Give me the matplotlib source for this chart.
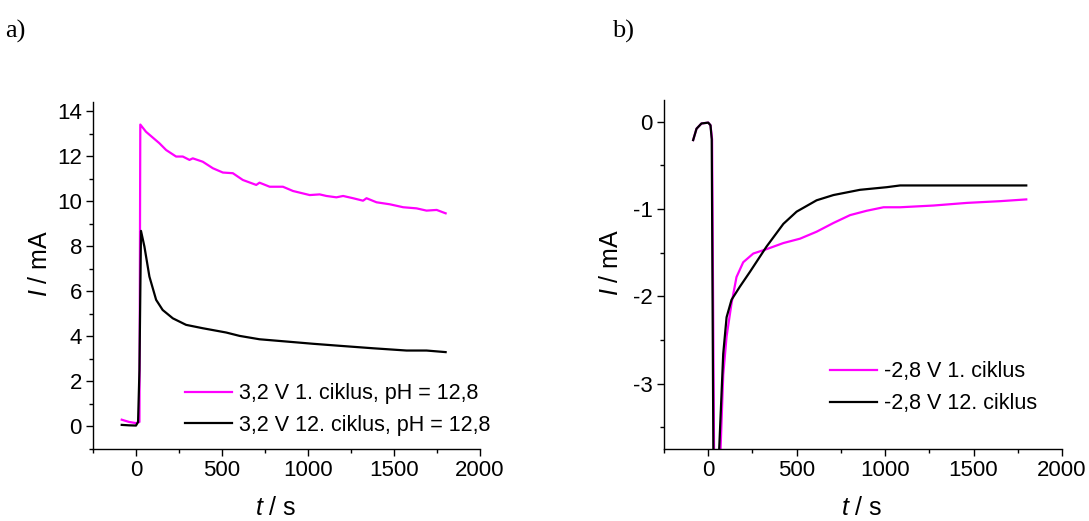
import numpy as np
import matplotlib
matplotlib.use('Agg')
import matplotlib.pyplot as plt
from matplotlib.ticker import MultipleLocator

plt.rcParams['font.family'] = 'Liberation Sans'
plt.rcParams['mathtext.fontset'] = 'custom'
plt.rcParams['mathtext.it'] = 'Liberation Sans:italic'
plt.rcParams['mathtext.rm'] = 'Liberation Sans'
plt.rcParams['axes.unicode_minus'] = False

# a) 3,2 V
t_a1 = [-83, -40, 0, 20, 25, 58, 136, 175, 233, 272, 311, 330, 388, 447, 505, 563, 621, 699, 718,
        777, 854, 913, 1010, 1068, 1107, 1165, 1204, 1262, 1320, 1340, 1398, 1476, 1553, 1631,
        1689, 1748, 1800]
i_a1 = [0.30, 0.20, 0.15, 0.2, 13.4, 13.08, 12.57, 12.27, 11.98, 11.98, 11.83, 11.9, 11.75, 11.46,
        11.27, 11.24, 10.94, 10.72, 10.82, 10.64, 10.64, 10.45, 10.27, 10.3, 10.23, 10.17, 10.23,
        10.13, 10.02, 10.13, 9.95, 9.86, 9.73, 9.68, 9.58, 9.61, 9.46]
t_a12 = [-83, -40, 0, 12, 20, 29, 49, 78, 117, 155, 214, 291, 388, 524, 602, 718, 874, 1029,
         1184, 1379, 1573, 1689, 1800]
i_a12 = [0.07, 0.05, 0.04, 0.2, 2.5, 8.68, 7.98, 6.65, 5.62, 5.17, 4.8, 4.51, 4.36, 4.17, 4.02,
         3.87, 3.77, 3.67, 3.58, 3.47, 3.37, 3.37, 3.30]

# b) -2,8 V
t_b1 = [-85, -66, -38, 0, 13, 22, 40, 62, 70, 85, 104, 132, 160, 198, 255, 330, 425, 519, 613,
        708, 802, 896, 991, 1085, 1274, 1462, 1651, 1798]
i_b1 = [-0.21, -0.08, -0.02, -0.01, -0.04, -0.2, -6.0, -5.0, -3.75, -2.9, -2.46, -2.08, -1.78,
        -1.61, -1.51, -1.46, -1.39, -1.34, -1.26, -1.16, -1.07, -1.02, -0.98, -0.98, -0.96,
        -0.93, -0.91, -0.89]
t_b12 = [-85, -66, -38, 0, 13, 20, 35, 50, 62, 85, 104, 132, 179, 236, 330, 425, 500, 613, 708,
         858, 1009, 1085, 1274, 1462, 1798]
i_b12 = [-0.21, -0.08, -0.02, -0.01, -0.04, -0.2, -6.0, -5.0, -3.76, -2.66, -2.24, -2.04, -1.89,
         -1.72, -1.43, -1.17, -1.03, -0.9, -0.84, -0.78, -0.75, -0.73, -0.73, -0.73, -0.73]

lbl_a = ['3,2 V 1. ciklus, pH = 12,8', '3,2 V 12. ciklus, pH = 12,8']
lbl_b = ['-2,8 V 1. ciklus', '-2,8 V 12. ciklus']

fig = plt.figure(figsize=(10.89, 5.21), dpi=100)
ax1 = fig.add_axes([0.0854, 0.1382, 0.3554, 0.666])
ax2 = fig.add_axes([0.6097, 0.1382, 0.3655, 0.670])


def style(ax, xlab_x, ylab_x):
    for s in ['top', 'right']:
        ax.spines[s].set_visible(False)
    for s in ['left', 'bottom']:
        ax.spines[s].set_linewidth(1.0)
    ax.tick_params(which='major', direction='out', length=5, width=1, labelsize=16, pad=3)
    ax.tick_params(which='minor', direction='out', length=3, width=1)
    ax.xaxis.set_major_locator(MultipleLocator(500))
    ax.xaxis.set_minor_locator(MultipleLocator(250))
    ax.set_xlim(-250, 2000)
    ax.set_xlabel('$t$ / s', fontsize=18)
    ax.set_ylabel('$I$ / mA', fontsize=18)
    ax.xaxis.set_label_coords(xlab_x, -0.135)
    ax.yaxis.set_label_coords(ylab_x, 0.536)


ax1.plot(t_a1, i_a1, color='#ff00ff', lw=1.6, label=lbl_a[0])
ax1.plot(t_a12, i_a12, color='black', lw=1.6, label=lbl_a[1])
style(ax1, 0.473, -0.106)
ax1.set_ylim(-1, 14.4)
ax1.yaxis.set_major_locator(MultipleLocator(2))
ax1.yaxis.set_minor_locator(MultipleLocator(1))
ax1.legend(loc='lower left', bbox_to_anchor=(0.188, -0.018), frameon=False, fontsize=15.5,
           handlelength=2.2, handletextpad=0.3, labelspacing=0.5)

ax2.plot(t_b1, i_b1, color='#ff00ff', lw=1.6, label=lbl_b[0])
ax2.plot(t_b12, i_b12, color='black', lw=1.6, label=lbl_b[1])
style(ax2, 0.497, -0.103)
ax2.set_ylim(-3.75, 0.25)
ax2.yaxis.set_major_locator(MultipleLocator(1))
ax2.yaxis.set_minor_locator(MultipleLocator(0.5))
ax2.legend(loc='lower left', bbox_to_anchor=(0.368, 0.044), frameon=False, fontsize=15.5,
           handlelength=2.2, handletextpad=0.3, labelspacing=0.5)

fig.text(0.005, 0.94, 'a)', fontsize=19, family='Liberation Serif', va='center')
fig.text(0.562, 0.94, 'b)', fontsize=19, family='Liberation Serif', va='center')

fig.savefig('out.png', dpi=100)
